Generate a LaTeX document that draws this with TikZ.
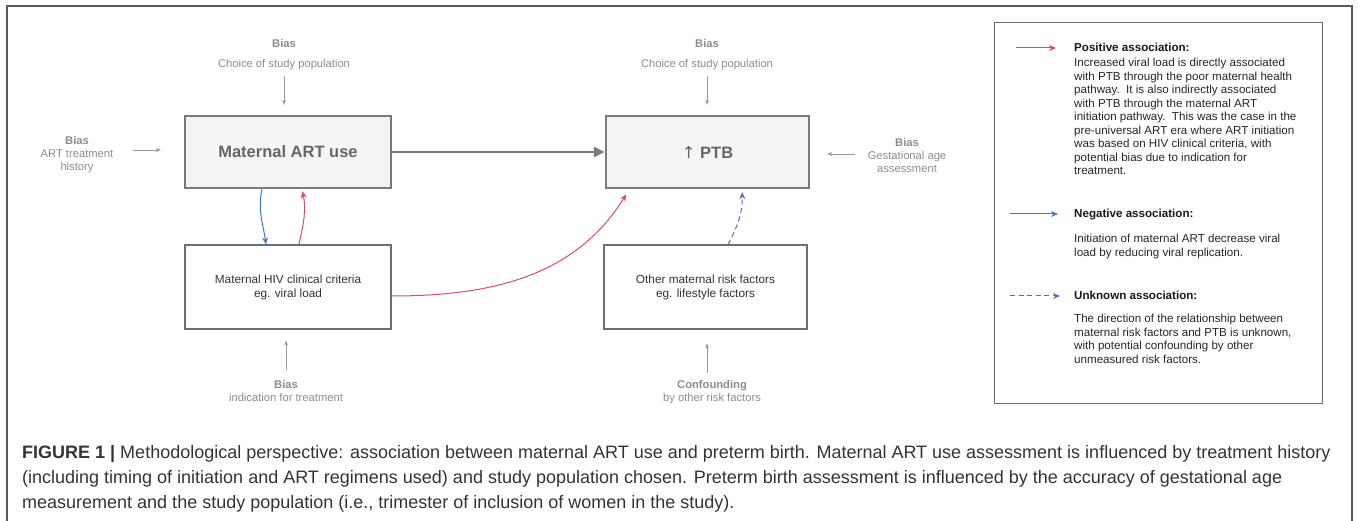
\documentclass[tikz,border=0pt]{standalone}
\usepackage{fontspec}
\setmainfont{Liberation Sans}
\newfontfamily\arrowfont{DejaVu Sans}
\usetikzlibrary{arrows.meta}
\definecolor{framegray}{HTML}{5A5A5A}
\definecolor{boxgray}{HTML}{7A7A7A}
\definecolor{subgray}{HTML}{6E6E6E}
\definecolor{boxfill}{HTML}{F5F5F8}
\definecolor{maintext}{HTML}{666666}
\definecolor{labelgray}{HTML}{8C8C8C}
\definecolor{arrowgray}{HTML}{999999}
\definecolor{poscol}{HTML}{D9505C}
\definecolor{negcol}{HTML}{3D7DB8}
\definecolor{unkcol}{HTML}{8458C4}
\tikzset{
  mainbox/.style={draw=boxgray,line width=2.4pt,fill=boxfill,minimum height=72,
    font=\fontsize{16.5}{19}\selectfont\bfseries,text=maintext},
  subbox/.style={draw=subgray,line width=1.1pt,fill=white,minimum height=84,
    align=center,font=\fontsize{11.8}{14}\selectfont,text=black!80},
  biashead/.style={font=\fontsize{11.2}{13}\selectfont\bfseries,text=labelgray},
  biastext/.style={font=\fontsize{11.2}{13}\selectfont,text=labelgray,align=center},
  biasarrow/.style={draw=arrowgray,line width=0.8pt,-{Stealth[length=5pt,width=4pt]}},
  mainarrow/.style={draw=boxgray,line width=2.6pt,-{Triangle[length=11pt,width=10pt]}},
  posarrow/.style={draw=poscol,line width=1pt,-{Stealth[length=7pt,width=6pt]}},
  negarrow/.style={draw=negcol,line width=1pt,-{Stealth[length=7pt,width=6pt]}},
  unkarrow/.style={draw=unkcol,line width=1pt,dash pattern=on 5pt off 3.5pt,-{Stealth[length=7pt,width=6pt]}},
  legendhead/.style={font=\fontsize{11.6}{13.5}\selectfont\bfseries,text=black!90},
  legendtext/.style={font=\fontsize{11.6}{13.5}\selectfont,text=black!85,align=left},
  captext/.style={font=\fontsize{18}{25}\selectfont,text=black!80}
}
\begin{document}
\begin{tikzpicture}[x=1pt,y=-1pt]
\tikzstyle{every node}+=[inner sep=0pt]
\useasboundingbox (0,0) rectangle (1358,521);
\draw [framegray, line width=1.5pt] (7,521) -- (7,6) -- (1352,6) -- (1352,521);

\node [mainbox, minimum width=206] (art) at (288,152) {Maternal ART use};
\node [mainbox, minimum width=203] (ptb) at (707.5,152) {{\arrowfont\mdseries\char"2191}\ PTB};
\node [subbox, minimum width=206] (hiv) at (288,287) {Maternal HIV clinical criteria\\eg. viral load};
\node [subbox, minimum width=203] (oth) at (705.5,287) {Other maternal risk factors\\eg. lifestyle factors};

\node [biashead] (artbias) at (284,44) {Bias};
\node [biastext] (artpop) at (284,65) {Choice of study population};
\node [biashead] (ptbbias) at (707,44) {Bias};
\node [biastext] (ptbpop) at (707,65) {Choice of study population};
\node [biastext] (hist) at (77,155) {\textbf{Bias}\\ART treatment\\history};
\node [biastext] (gest) at (907,155) {\textbf{Bias}\\Gestational age\\assessment};
\node [biastext] (indic) at (286,390.5) {\textbf{Bias}\\indication for treatment};
\node [biastext] (conf) at (712,392.5) {\textbf{Confounding}\\by other risk factors};

\coordinate (ha) at (133,150);
\coordinate (ga) at (855,154);
\coordinate (ia) at (286,370);
\coordinate (ca) at (707,373);
\draw [biasarrow, shorten <=6pt, shorten >=10pt] (artpop.south) -- (artpop.south |- art.north);
\draw [biasarrow, shorten <=6pt, shorten >=10pt] (ptbpop.south) -- (ptbpop.south |- ptb.north);
\draw [biasarrow, shorten >=23pt] (ha) -- (ha -| art.west);
\draw [biasarrow, shorten >=17pt] (ga) -- (ga -| ptb.east);
\draw [biasarrow, shorten >=11pt] (ia) -- (ia |- hiv.south);
\draw [biasarrow, shorten >=14pt] (ca) -- (ca |- oth.south);

\draw [mainarrow] (art) -- (ptb);
\draw [negarrow] ([xshift=-26pt]art.south) to [out=-102, in=98] ([xshift=-22pt]hiv.north);
\draw [posarrow, shorten >=2pt] ([xshift=11pt]hiv.north) to [out=78, in=-78] ([xshift=14pt]art.south);
\draw [posarrow, shorten >=6pt] ([yshift=-9pt]hiv.east) to [out=0, in=-122] ([xshift=-78pt]ptb.south);
\draw [unkarrow, shorten >=3pt] ([xshift=22.5pt]oth.north) to [out=62, in=-88] ([xshift=34.5pt]ptb.south);

\node [draw=subgray, line width=1pt, minimum width=328, minimum height=380] (legend) at (1158,213) {};
\coordinate (pos0) at (1016,48);
\coordinate (pos1) at (1056,48);
\coordinate (neg0) at (1010,214);
\coordinate (neg1) at (1058,214);
\coordinate (unk0) at (1010,296);
\coordinate (unk1) at (1060,296);
\draw [posarrow] (pos0) -- (pos1);
\draw [negarrow] (neg0) -- (neg1);
\draw [unkarrow] (unk0) -- (unk1);
\node [legendhead, anchor=base west] (poshead) at (1074,52) {Positive association:};
\node [legendtext, anchor=north west] (postext) at (1074,58) {Increased viral load is directly associated\\with PTB through the poor maternal health\\pathway.\ \ It is also indirectly associated\\with PTB through the maternal ART\\initiation pathway.\ \ This was the case in the\\pre-universal ART era where ART initiation\\was based on HIV clinical criteria, with\\potential bias due to indication for\\treatment.};
\node [legendhead, anchor=base west] (neghead) at (1074,218) {Negative association:};
\node [legendtext, anchor=north west] (negtext) at (1074,234) {Initiation of maternal ART decrease viral\\load by reducing viral replication.};
\node [legendhead, anchor=base west] (unkhead) at (1074,300) {Unknown association:};
\node [legendtext, anchor=north west] (unktext) at (1074,314) {The direction of the relationship between\\maternal risk factors and PTB is unknown,\\with potential confounding by other\\unmeasured risk factors.};

\node [captext, anchor=base west] (cap1) at (22,458) {\textbf{FIGURE 1 |} Methodological perspective: association between maternal ART use and preterm birth. Maternal ART use assessment is influenced by treatment history};
\node [captext, anchor=base west] (cap2) at (22,483) {(including timing of initiation and ART regimens used) and study population chosen. Preterm birth assessment is influenced by the accuracy of gestational age};
\node [captext, anchor=base west] (cap3) at (22,508) {measurement and the study population (i.e., trimester of inclusion of women in the study).};
\end{tikzpicture}
\end{document}
